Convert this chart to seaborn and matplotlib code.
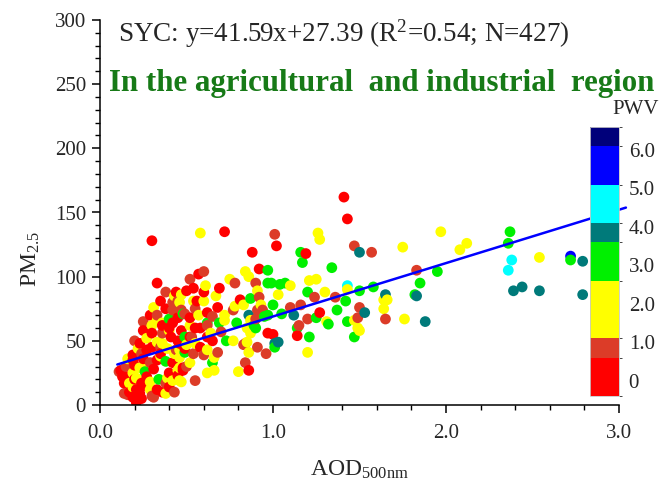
import numpy as np
import pandas as pd
import matplotlib
matplotlib.use("Agg")
import matplotlib.pyplot as plt
from matplotlib.colors import ListedColormap, BoundaryNorm
from matplotlib.cm import ScalarMappable
from matplotlib.ticker import MultipleLocator
import seaborn as sns

# Regression summary for the SYC station
slope, intercept, r2, n_obs = 41.59, 27.39, 0.54, 427

# PWV colour bands (edges, colours, tick labels)
pwv_edges = [-0.4, 0.6, 1.1, 2.6, 3.6, 4.1, 5.1, 6.1, 6.6]
pwv_colors = ["#ff0000", "#dc3c28", "#ffff00", "#00f000",
              "#007a7a", "#00ffff", "#0000ff", "#00007a"]
pwv_ticks = [0, 1, 2, 3, 4, 5, 6]
pwv_ticklabels = ["0", "1.0", "2.0", "3.0", "4.0", "5.0", "6.0"]

# Observations grouped by PWV band: AOD (500 nm) and PM2.5
blue_aod = [2.72]
blue_pm = [116]
blue_pwv = [5.6]

cyan_aod = [2.38, 2.36, 1.43]
cyan_pm = [113, 105, 93]
cyan_pwv = [4.6, 4.5, 4.4]

teal_aod = [2.39, 2.44, 2.54, 2.79, 2.79, 1.50, 1.83, 1.65, 1.53, 1.88,
            1.12, 1.03, 1.01, 0.86]
teal_pm = [89, 92, 89, 112, 86, 119, 85, 86, 72, 65,
           70, 49, 48, 70]
teal_pwv = [3.8, 3.9, 3.8, 3.9, 3.8, 3.7, 3.8, 3.9, 3.8, 3.7,
            3.8, 3.9, 3.8, 3.7]

green_aod = [2.37, 2.36, 2.72, 1.95, 1.85, 1.82, 1.58, 1.50, 1.16, 1.17,
             1.34, 0.97, 0.97, 0.99, 1.07, 1.20, 1.42, 1.00, 1.05, 1.37,
             1.25, 1.32, 1.43, 1.14, 1.47, 1.21, 1.01, 1.04, 0.87, 0.95,
             0.89, 0.73, 0.79, 0.40, 0.48, 0.49, 0.38, 0.26, 0.34, 0.62,
             0.69, 0.97, 0.90, 0.49, 0.65]
green_pm = [135, 126, 113, 104, 95, 86, 92, 89, 119, 111,
            107, 105, 95, 95, 95, 88, 81, 78, 71, 74,
            68, 63, 65, 60, 53, 53, 45, 94, 83, 69,
            62, 50, 64, 67, 71, 53, 34, 26, 20, 64,
            64, 70, 60, 41, 33]
green_pwv = [3.1, 3.2, 3.0, 2.9, 3.1, 3.0, 3.2, 3.1, 2.8, 3.0,
             3.1, 2.9, 3.0, 3.2, 3.1, 3.0, 2.9, 3.1, 3.0, 3.2,
             3.0, 2.8, 3.1, 3.0, 2.9, 3.1, 3.0, 3.2, 2.9, 3.0,
             3.1, 2.8, 3.0, 2.9, 3.1, 3.0, 2.8, 2.9, 3.0, 3.1,
             3.0, 2.9, 3.1, 3.0, 2.8]

yellow_aod = [0.58, 1.26, 1.27, 1.97, 2.12, 2.08, 1.75, 2.54, 0.75, 0.84,
              0.86, 0.61, 0.67, 0.91, 0.54, 0.60, 0.47, 1.10, 1.21, 1.25,
              1.03, 1.43, 1.30, 1.31, 1.47, 1.49, 1.20, 1.64, 1.66, 1.64,
              1.76, 1.50, 0.72, 0.85, 0.87, 0.77, 0.86, 0.80, 0.83, 0.78,
              0.33, 0.36, 0.33, 0.36, 0.39, 0.22, 0.43, 0.46, 0.16, 0.23,
              0.19, 0.21, 0.39, 0.42, 0.45, 0.17, 0.19, 0.29, 0.29, 0.47,
              0.38, 0.46, 0.72, 0.93, 0.87, 0.85, 0.62, 0.66, 0.55, 0.50,
              0.46, 0.52, 0.66, 0.62, 0.46, 0.46, 0.30, 0.27, 0.40, 0.52,
              0.57, 0.35, 0.25, 0.31, 0.43, 0.64]
yellow_pm = [134, 134, 129, 135, 126, 121, 123, 115, 98, 104,
             100, 93, 85, 89, 81, 81, 86, 93, 97, 98,
             86, 90, 88, 65, 66, 60, 41, 82, 82, 75,
             67, 58, 66, 60, 66, 50, 41, 26, 78, 77,
             66, 64, 49, 48, 44, 44, 40, 37, 36, 29,
             25, 21, 21, 19, 27, 17, 14, 18, 12, 18,
             9, 80, 70, 78, 56, 49, 43, 37, 48, 47,
             43, 33, 27, 25, 29, 19, 62, 52, 58, 62,
             70, 38, 30, 76, 85, 56]
yellow_pwv = [1.8, 2.0, 1.7, 2.2, 1.9, 1.6, 2.1, 2.3, 1.8, 1.5,
              1.9, 2.0, 1.7, 1.8, 1.6, 1.9, 2.1, 1.8, 2.0, 1.7,
              1.6, 2.2, 1.9, 1.8, 2.0, 1.7, 1.6, 2.1, 1.9, 1.8,
              2.0, 1.7, 1.6, 1.8, 1.9, 1.5, 2.0, 1.7, 1.8, 1.6,
              1.4, 1.9, 1.7, 1.5, 1.8, 1.6, 1.4, 1.9, 1.5, 1.7,
              1.6, 1.8, 1.5, 1.4, 1.7, 1.6, 1.5, 1.8, 1.4, 1.6,
              1.5, 1.7, 1.9, 2.0, 1.8, 1.6, 1.7, 1.5, 1.9, 1.6,
              1.4, 1.7, 1.8, 1.5, 1.6, 1.4, 1.7, 1.5, 1.8, 1.6,
              1.9, 1.5, 1.4, 1.6, 1.7, 1.8]

orange_aod = [1.01, 1.47, 1.57, 1.83, 1.50, 1.65, 0.60, 0.52, 0.78, 0.90,
              0.92, 0.42, 1.24, 1.36, 1.10, 1.16, 1.20, 1.49, 1.15, 0.96,
              0.45, 0.91, 0.84, 0.83, 0.42, 0.47, 0.49, 0.36, 0.44, 0.29,
              0.14, 0.31, 0.43, 0.38, 0.11, 0.65, 0.77, 0.90, 0.94, 0.84,
              0.91, 0.68, 0.60, 0.54, 0.53, 0.55, 0.16, 0.30, 0.35, 0.25,
              0.38, 0.55, 0.62, 0.20, 0.33, 0.15, 0.24, 0.50, 0.70]
orange_pm = [133, 124, 119, 105, 76, 67, 104, 98, 95, 95,
             84, 80, 84, 84, 76, 78, 67, 68, 62, 40,
             81, 74, 33, 47, 74, 74, 71, 56, 43, 33,
             9, 6, 10, 17, 26, 69, 74, 67, 74, 48,
             45, 41, 39, 40, 53, 19, 8, 7, 45, 65,
             88, 75, 62, 50, 70, 30, 40, 30, 57]
orange_pwv = [0.8, 0.9, 0.7, 1.0, 0.8, 0.9, 0.7, 0.8, 1.0, 0.9,
              0.8, 0.7, 0.9, 0.8, 1.0, 0.7, 0.8, 0.9, 0.8, 0.7,
              0.9, 0.8, 1.0, 0.7, 0.8, 0.9, 0.7, 0.8, 1.0, 0.9,
              0.7, 0.8, 0.9, 0.8, 0.7, 1.0, 0.8, 0.9, 0.7, 0.8,
              0.9, 1.0, 0.8, 0.7, 0.9, 0.8, 0.7, 0.9, 0.8, 1.0,
              0.7, 0.8, 0.9, 0.8, 0.7, 0.9, 0.8, 1.0, 0.7]

red_aod = [0.30, 0.72, 0.33, 0.35, 0.57, 0.54, 0.50, 0.69, 0.88, 0.92,
           0.81, 1.02, 1.41, 1.43, 1.19, 1.27, 1.14, 1.00, 0.97, 0.86,
           0.60, 0.25, 0.30, 0.41, 0.45, 0.23, 0.27, 0.19, 0.25, 0.42,
           0.20, 0.12, 0.27, 0.16, 0.45, 0.14, 0.24, 0.40, 0.21, 0.19,
           0.24, 0.21, 0.36, 0.21, 0.65, 0.46, 0.49, 0.48, 0.56, 0.45,
           0.40, 0.47, 0.52, 0.58, 0.62, 0.68, 0.19, 0.33, 0.40, 0.48,
           0.33, 0.23, 0.13, 0.52, 0.30, 0.36, 0.29, 0.38, 0.44, 0.62,
           0.55, 0.26, 0.17, 0.31, 0.35, 0.58, 0.42, 0.20]
red_pm = [128, 135, 95, 81, 102, 91, 89, 91, 119, 106,
          82, 124, 162, 145, 118, 72, 54, 55, 56, 27,
          88, 58, 56, 53, 50, 48, 43, 39, 36, 33,
          31, 27, 22, 22, 23, 17, 17, 14, 12, 6,
          5, 4, 10, 2, 50, 48, 44, 27, 81, 68,
          60, 58, 53, 60, 53, 76, 35, 35, 25, 29,
          12, 9, 22, 68, 45, 62, 70, 75, 88, 72,
          60, 15, 10, 28, 40, 45, 64, 20]
red_pwv = [0.3, 0.2, 0.4, 0.1, 0.3, 0.5, 0.2, 0.4, 0.3, 0.1,
           0.2, 0.5, 0.3, 0.4, 0.2, 0.1, 0.3, 0.5, 0.2, 0.4,
           0.3, 0.1, 0.2, 0.4, 0.3, 0.5, 0.2, 0.1, 0.3, 0.4,
           0.2, 0.5, 0.3, 0.1, 0.2, 0.4, 0.3, 0.5, 0.2, 0.1,
           0.3, 0.4, 0.2, 0.5, 0.3, 0.1, 0.2, 0.4, 0.3, 0.5,
           0.2, 0.1, 0.3, 0.4, 0.2, 0.5, 0.3, 0.1, 0.2, 0.4,
           0.3, 0.5, 0.2, 0.1, 0.3, 0.4, 0.2, 0.5, 0.3, 0.1,
           0.2, 0.4, 0.3, 0.5, 0.2, 0.1, 0.3, 0.4]

groups = [
    (blue_aod, blue_pm, blue_pwv),
    (cyan_aod, cyan_pm, cyan_pwv),
    (teal_aod, teal_pm, teal_pwv),
    (green_aod, green_pm, green_pwv),
    (yellow_aod, yellow_pm, yellow_pwv),
    (orange_aod, orange_pm, orange_pwv),
    (red_aod, red_pm, red_pwv),
]
df = pd.concat(
    [pd.DataFrame({"aod": a, "pm25": p, "pwv": w}) for a, p, w in groups],
    ignore_index=True,
).sort_values("aod", kind="stable")

# ---------------------------------------------------------------- style
sns.set_style("ticks")
plt.rcParams["font.family"] = ["Liberation Serif", "DejaVu Serif"]
plt.rcParams["mathtext.fontset"] = "custom"
plt.rcParams["mathtext.rm"] = "Liberation Serif"
plt.rcParams["mathtext.it"] = "Liberation Serif:italic"

cmap = ListedColormap(pwv_colors)
norm = BoundaryNorm(pwv_edges, cmap.N)

fig = plt.figure(figsize=(6.61, 4.90), dpi=100)
ax = fig.add_axes([100 / 661, 1 - 405 / 490, 519 / 661, 385 / 490])

sns.scatterplot(data=df, x="aod", y="pm25", hue="pwv", palette=cmap,
                hue_norm=norm, s=60, linewidth=0, legend=False, ax=ax,
                zorder=2)

# fitted regression line
fit_x = np.array([0.1, 3.04])
sns.lineplot(x=fit_x, y=slope * fit_x + intercept, color="#0000ff",
             linewidth=1.8, ax=ax, zorder=3, clip_on=False)

ax.set_xlim(0, 3)
ax.set_ylim(0, 300)
ax.xaxis.set_major_locator(MultipleLocator(1.0))
ax.xaxis.set_minor_locator(MultipleLocator(0.2))
ax.yaxis.set_major_locator(MultipleLocator(50))
ax.yaxis.set_minor_locator(MultipleLocator(10))
ax.set_xticklabels([f"{v:.1f}" for v in ax.get_xticks()])
ax.tick_params(which="major", direction="out", length=6, width=1.1,
               labelsize=15, color="black")
ax.tick_params(axis="x", which="major", pad=8)
ax.tick_params(axis="y", which="major", pad=4)
ax.tick_params(which="minor", direction="out", length=3.5, width=1.0,
               color="black")
sns.despine(ax=ax)
for side in ("left", "bottom"):
    ax.spines[side].set_linewidth(1.1)
    ax.spines[side].set_color("black")

ax.set_xlabel(r"AOD$_{\mathregular{500nm}}$", fontsize=17, labelpad=11)
ax.set_ylabel(r"PM$_{\mathregular{2.5}}$", fontsize=17)
ax.yaxis.set_label_coords(-0.112, 0.38)

ax.text(0.035, 0.965,
        f"SYC: y={slope}x+{intercept} (R$^{{\\mathregular{{2}}}}$={r2}; N={n_obs})",
        transform=ax.transAxes, fontsize=19.5, va="center", ha="left")
ax.text(0.017, 0.836, "In the agricultural  and industrial  region",
        transform=ax.transAxes, fontsize=22.2, fontweight="bold",
        color="#177a17", va="center", ha="left")

# PWV colour bar drawn inside the plotting area
cax = fig.add_axes([590 / 661, 1 - 396 / 490, 29 / 661, 269 / 490])
cb = fig.colorbar(ScalarMappable(norm=norm, cmap=cmap), cax=cax,
                  ticks=pwv_ticks, spacing="proportional")
cb.ax.set_yticklabels(pwv_ticklabels)
cb.ax.tick_params(length=0, labelsize=15, pad=7)
cb.outline.set_linewidth(0.6)
cb.outline.set_edgecolor("#c8c8c8")
fig.text(636 / 661, 1 - 110 / 490, "PWV", fontsize=15, ha="center",
         va="center")

fig.savefig("out.png", dpi=100, facecolor="white")
